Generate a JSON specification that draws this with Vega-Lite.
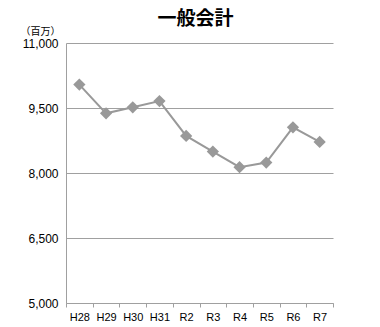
{
  "$schema": "https://vega.github.io/schema/vega-lite/v6.json",
  "width": 267,
  "height": 260,
  "autosize": {"type": "none"},
  "padding": {"left": 66, "top": 43, "right": 47, "bottom": 24},
  "background": "white",
  "title": {
    "text": "一般会計",
    "font": "Noto Sans CJK JP",
    "fontSize": 19,
    "fontWeight": "bold",
    "color": "#000000",
    "anchor": "middle",
    "dx": -4,
    "offset": -3
  },
  "config": {
    "view": {"stroke": null},
    "axis": {"labelFont": "Liberation Sans", "titleFont": "Noto Sans CJK JP"}
  },
  "data": {
    "values": [
      {"year": "H28", "value": 10040},
      {"year": "H29", "value": 9377},
      {"year": "H30", "value": 9515},
      {"year": "H31", "value": 9660},
      {"year": "R2", "value": 8855},
      {"year": "R3", "value": 8494},
      {"year": "R4", "value": 8135},
      {"year": "R5", "value": 8241},
      {"year": "R6", "value": 9055},
      {"year": "R7", "value": 8717}
    ]
  },
  "encoding": {
    "x": {
      "field": "year",
      "type": "ordinal",
      "sort": null,
      "scale": {"type": "band", "paddingInner": 0, "paddingOuter": 0},
      "axis": {
        "title": null,
        "labelAngle": 0,
        "labelFontSize": 11,
        "labelColor": "#000000",
        "tickBand": "extent",
        "tickSize": 4,
        "tickColor": "#a0a0a0",
        "domainColor": "#a0a0a0",
        "labelPadding": 4,
        "grid": false
      }
    },
    "y": {
      "field": "value",
      "type": "quantitative",
      "scale": {"domain": [5000, 11000], "nice": false, "zero": false},
      "axis": {
        "values": [5000, 6500, 8000, 9500, 11000],
        "format": ",d",
        "labelFontSize": 12,
        "labelColor": "#000000",
        "ticks": false,
        "labelPadding": 8,
        "domainColor": "#a0a0a0",
        "gridColor": "#a0a0a0",
        "gridOpacity": 1,
        "title": "（百万）",
        "titleAngle": 0,
        "titleFontSize": 10,
        "titleFontWeight": "normal",
        "titleColor": "#000000",
        "titleAlign": "center",
        "titleBaseline": "alphabetic",
        "titleX": -26,
        "titleY": -9
      }
    }
  },
  "layer": [
    {"mark": {"type": "line", "color": "#999999", "strokeWidth": 2}},
    {"mark": {"type": "point", "shape": "diamond", "filled": true, "color": "#999999", "opacity": 1, "size": 150}}
  ]
}
